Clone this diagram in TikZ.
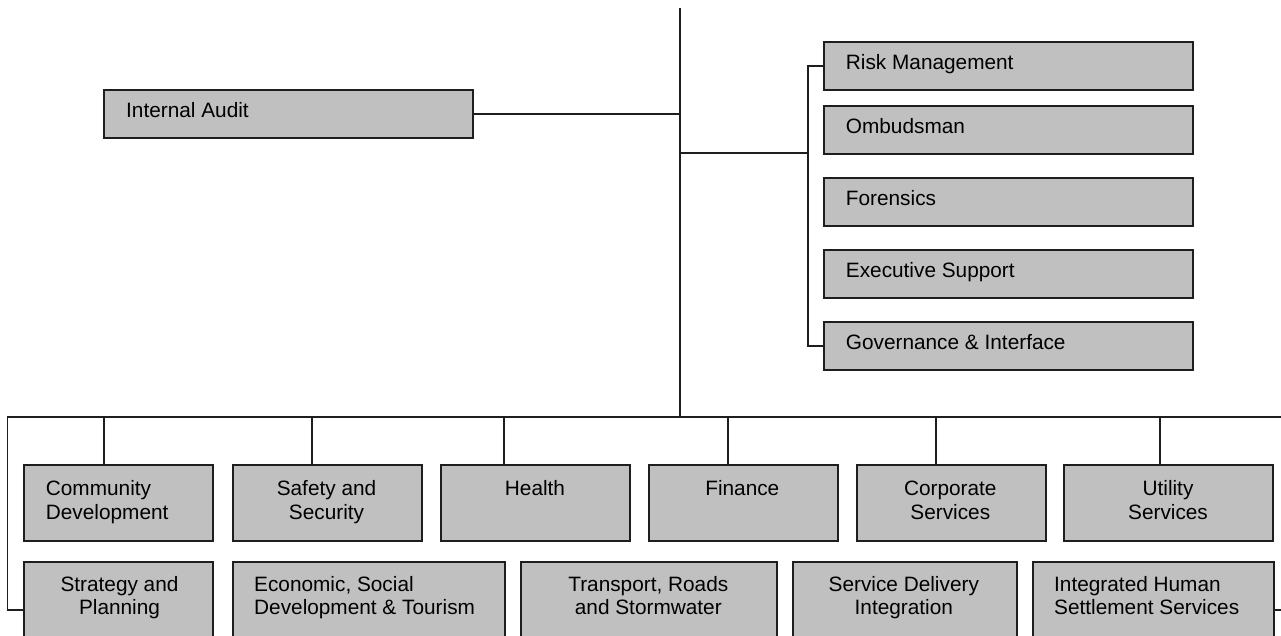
\documentclass[tikz,border=0pt]{standalone}
\usepackage{fontspec}
\setmainfont{Liberation Sans}
\definecolor{boxgray}{RGB}{192,192,192}
\definecolor{ink}{RGB}{30,30,30}
\newcommand\lnsC[2]{\begin{tabular}[t]{@{}c@{}}#1\\#2\end{tabular}}
\newcommand\lnsL[2]{\begin{tabular}[t]{@{}l@{}}#1\\#2\end{tabular}}
\begin{document}
\begin{tikzpicture}[x=1pt,y=-1pt,
  box/.style={draw=ink,fill=boxgray,line width=1.6pt,inner sep=0pt,anchor=north west},
  rbox/.style={box,minimum width=369pt,minimum height=48pt},
  tbox/.style={box,minimum height=76pt},
  bbox/.style={box,minimum height=96pt},
  txt/.style={inner sep=0pt,font=\fontsize{20.8}{23.3}\selectfont,text=black},
  conn/.style={draw=ink,line width=1.6pt}]
\clip (0,0) rectangle (1281,635);
% boxes top area
\node[box,minimum width=369pt,minimum height=48pt] (IA) at (103,89) {};
\node[rbox] (RM) at (823,41) {};
\node[rbox] (OM) at (823,105) {};
\node[rbox] (FO) at (823,177) {};
\node[rbox] (ES) at (823,249) {};
\node[rbox] (GI) at (823,321) {};
% top row
\node[tbox,minimum width=189pt] (CD) at (23,464) {};
\node[tbox,minimum width=189pt] (SS) at (232,464) {};
\node[tbox,minimum width=189pt] (HE) at (440,464) {};
\node[tbox,minimum width=189pt] (FI) at (648,464) {};
\node[tbox,minimum width=189pt] (CS) at (856,464) {};
\node[tbox,minimum width=209pt] (US) at (1063,464) {};
% bottom row
\node[bbox,minimum width=189pt] (SP) at (23,561) {};
\node[bbox,minimum width=272pt] (EC) at (232,561) {};
\node[bbox,minimum width=256pt] (TR) at (520,561) {};
\node[bbox,minimum width=224pt] (SD) at (792,561) {};
\node[bbox,minimum width=241pt] (IH) at (1032,561) {};
% texts
\node[txt,anchor=base west] (IAt) at (126,117.5) {Internal Audit};
\node[txt,anchor=base west] (RMt) at (845.7,69.3) {Risk Management};
\node[txt,anchor=base west] (OMt) at (845.7,133.3) {Ombudsman};
\node[txt,anchor=base west] (FOt) at (845.7,205.3) {Forensics};
\node[txt,anchor=base west] (ESt) at (845.7,277.3) {Executive Support};
\node[txt,anchor=base west] (GIt) at (845.7,349.3) {Governance \& Interface};
\node[txt,anchor=base west] (CDt) at (45.7,495.7) {\lnsL{Community}{Development}};
\node[txt,anchor=base] (SSt) at (326.5,495.7) {\lnsC{Safety and}{Security}};
\node[txt,anchor=base] (HEt) at (535,495.7) {Health};
\node[txt,anchor=base] (FIt) at (742.3,495.7) {Finance};
\node[txt,anchor=base] (CSt) at (950.3,495.7) {\lnsC{Corporate}{Services}};
\node[txt,anchor=base] (USt) at (1168,495.7) {\lnsC{Utility}{Services}};
\node[txt,anchor=base] (SPt) at (119.5,591.3) {\lnsC{Strategy and}{Planning}};
\node[txt,anchor=base west] (ECt) at (254,591.3) {\lnsL{Economic, Social}{Development \& Tourism}};
\node[txt,anchor=base] (TRt) at (648.3,591.3) {\lnsC{Transport, Roads}{and Stormwater}};
\node[txt,anchor=base] (SDt) at (903.8,591.3) {\lnsC{Service Delivery}{Integration}};
\node[txt,anchor=base west] (IHt) at (1054,591.3) {\lnsL{Integrated Human}{Settlement Services}};
% connector points
\coordinate (top) at (680,8);
\coordinate (hub) at (680,417);
\coordinate (rbr) at (680,153);
\coordinate (rv) at (808,153);
\coordinate (busL) at (7.5,417);
\coordinate (busR) at (1295,417);
\coordinate (d1) at (104,417);
\coordinate (d2) at (312,417);
\coordinate (d3) at (504,417);
\coordinate (d4) at (728,417);
\coordinate (d5) at (936,417);
\coordinate (d6) at (1160,417);
% connectors
\draw[conn] (top) -- (hub);
\draw[conn] (IA.east) -- (IA.east -| top);
\draw[conn] (rbr) -- (rv);
\draw[conn] (RM.west) -- (RM.west -| rv) -- (GI.west -| rv) -- (GI.west);
\draw[conn] (SP.west) -| (busL) -- (busR) |- (IH.east);
\draw[conn] (d1) -- (d1 |- CD.north);
\draw[conn] (d2) -- (d2 |- SS.north);
\draw[conn] (d3) -- (d3 |- HE.north);
\draw[conn] (d4) -- (d4 |- FI.north);
\draw[conn] (d5) -- (d5 |- CS.north);
\draw[conn] (d6) -- (d6 |- US.north);
\end{tikzpicture}
\end{document}
